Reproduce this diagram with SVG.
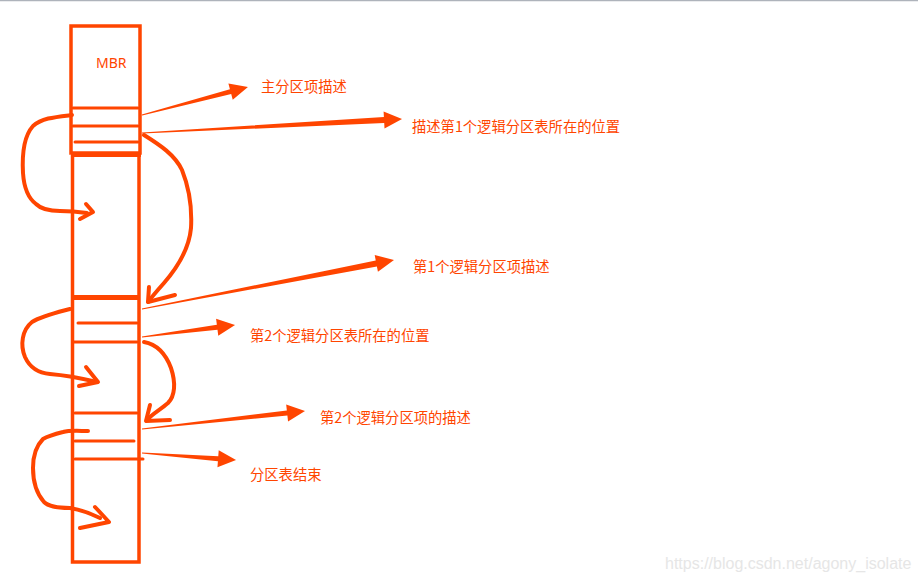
<svg xmlns="http://www.w3.org/2000/svg" width="918" height="580" viewBox="0 0 918 580">
<style>
.s{fill:none;stroke:#FF4500;stroke-width:3.5}
.l{fill:none;stroke:#FF4500;stroke-width:3;stroke-linecap:round}
.c{fill:none;stroke:#FF4500;stroke-width:4;stroke-linecap:round;stroke-linejoin:round}
.a{fill:#FF4500}
.t{fill:#FF4500;font-family:"Noto Sans CJK SC","Noto Sans",sans-serif;font-size:14.3px}
.w{fill:#e6e6e6;font-family:"Liberation Sans",Arial,sans-serif;font-size:16px}
</style>
<rect x="0" y="0" width="918" height="580" fill="#ffffff"/>
<line x1="0" y1="0.5" x2="918" y2="0.5" stroke="#aeb3bb" stroke-width="1.5"/>

<g id="mbr">
<rect class="s" x="71" y="26" width="69" height="127"/>
<text class="t" x="96" y="68" style="font-family:'Noto Sans',sans-serif;font-size:14px">MBR</text>
<line class="l" x1="73" y1="108" x2="138" y2="108"/>
<line class="l" x1="73" y1="126" x2="138" y2="126"/>
<line class="l" x1="75" y1="142" x2="138" y2="142"/>
</g>

<g id="column">
<rect class="a" x="71" y="152" width="70" height="5"/>
<path class="s" d="M72.5,155 V562 H139 V155"/>
<rect class="a" x="73" y="295" width="65" height="5"/>
<line class="l" x1="78" y1="323" x2="137" y2="323"/>
<line class="l" x1="73" y1="342" x2="137" y2="342"/>
<line class="l" x1="75" y1="413" x2="137" y2="413"/>
<line class="l" x1="75" y1="441" x2="134" y2="441"/>
<line class="l" x1="75" y1="459" x2="143" y2="459"/>
</g>

<g id="labels">
<text class="t" x="261" y="92">主分区项描述</text>
<text class="t" x="412" y="132">描述第1个逻辑分区表所在的位置</text>
<text class="t" x="413" y="272">第1个逻辑分区项描述</text>
<text class="t" x="250" y="341">第2个逻辑分区表所在的位置</text>
<text class="t" x="320" y="423">第2个逻辑分区项的描述</text>
<text class="t" x="250" y="480">分区表结束</text>
</g>

<g id="connectors">
<path class="c" d="M72,115 C55,117 42,118 33,126 C24,136 22,155 23,173 C24,188 28,198 36,204 C42,210 50,211 60,211 C70,211 80,212 87,213"/>
<path class="c" d="M86,204 L93,212 L80,219"/>
<path class="c" d="M144,135 C160,145 175,155 182,170 C190,190 192,210 191,228 C189,250 177,268 164,283 C156,292 151,298 148,302"/>
<path class="c" d="M149,287 L148,302 L175,295"/>
<path class="c" d="M70,309 C55,313 42,316 32,322 C22,330 20,345 25,357 C30,368 38,373 50,374 C62,375 80,378 97,382"/>
<path class="c" d="M86,367 L98,382 L79,386"/>
<path class="c" d="M144,342 C155,344 165,352 171,368 C176,383 175,396 168,403 C160,410 152,414 147,420"/>
<path class="c" d="M150,405 L146,421 L170,420"/>
<path class="c" d="M88,431 C80,431 70,430 63,432 C55,434 48,436 43,439 C36,446 33,456 33,468 C33,482 37,494 44,502 C49,507 58,508 70,508 C82,510 92,514 100,518"/>
<path class="c" d="M95,507 L109,522 L80,528"/>
<polygon class="a" transform="translate(142,115) rotate(-14.8)" points="0,-0.5 91.6,-2.5 91.6,-8.5 109.6,0 91.6,8.5 91.6,2.5 0,0.5"/>
<polygon class="a" transform="translate(142,133) rotate(-3.08)" points="0,-0.5 242.4,-3 242.4,-8.5 260.4,0 242.4,8.5 242.4,3 0,0.5"/>
<polygon class="a" transform="translate(142,309) rotate(-11)" points="0,-0.5 238.7,-3 238.7,-8.5 256.7,0 238.7,8.5 238.7,3 0,0.5"/>
<polygon class="a" transform="translate(142,337) rotate(-7.35)" points="0,-0.5 75.8,-2.5 75.8,-8.5 93.8,0 75.8,8.5 75.8,2.5 0,0.5"/>
<polygon class="a" transform="translate(142,429) rotate(-6.3)" points="0,-0.5 146,-2.5 146,-8.5 164,0 146,8.5 146,2.5 0,0.5"/>
<polygon class="a" transform="translate(142,453) rotate(4.26)" points="0,-0.5 76.3,-2.5 76.3,-8.5 94.3,0 76.3,8.5 76.3,2.5 0,0.5"/>
</g>

<text class="w" x="665" y="569">https://blog.csdn.net/agony_isolate</text>
</svg>
